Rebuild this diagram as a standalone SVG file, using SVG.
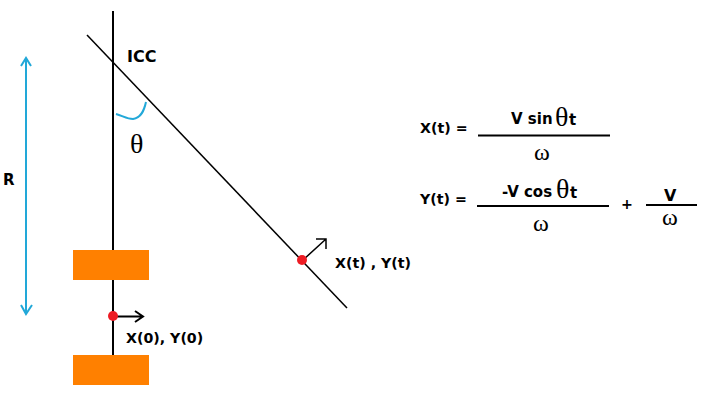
<svg xmlns="http://www.w3.org/2000/svg" width="725" height="417" viewBox="0 0 725 417">
<style>
.b{font-family:"DejaVu Sans",Verdana,sans-serif;font-weight:bold;font-size:14.2px;fill:#000}
.g{font-family:"Liberation Serif","DejaVu Serif",serif;fill:#000}
.w{font-size:24px}
.h{font-size:28px}
.l{fill:none;stroke:#000;stroke-width:2}
.t{fill:none;stroke:#000;stroke-width:1.5}
.c{fill:none;stroke:#22a8d8;stroke-width:2}
.o{fill:#ff8000}
.r{fill:#ed1c24}
</style>
<rect width="725" height="417" fill="#fff"/>
<g id="connectors">
<path class="l" d="M113 11V355"/>
<path class="t" d="M87 35L347 308"/>
<path class="c" d="M26 58V314M21 66L26 58L31 66M21 305L26 314L32 305"/>
<path class="c" d="M116 114C123 116 127 119 133 119C141 118 144 111 146 102"/>
<path class="l" d="M113 316.500H143M135 311L143 316.500L135 322"/>
<path class="t" d="M303 260L326 239M316 239H326V249"/>
<path class="l" d="M478 135.500H610M477 206H609M646 205H697"/>
</g>
<g id="wheel-top"><rect class="o" x="73" y="250" width="76" height="30"/></g>
<g id="wheel-bottom"><rect class="o" x="73" y="355" width="76" height="30"/></g>
<g id="point-start"><circle class="r" cx="113" cy="316" r="5"/><text class="b" x="126" y="343">X(0), Y(0)</text></g>
<g id="point-t"><circle class="r" cx="302" cy="260" r="5"/><text class="b" x="335" y="268">X(t) , Y(t)</text></g>
<g id="labels">
<text class="b" x="127" y="62" style="font-size:16px">ICC</text>
<text class="b" x="3" y="185" style="font-size:15px">R</text>
<text class="g h" x="130" y="153">θ</text>
</g>
<g id="formula-x">
<text class="b" x="420" y="133">X(t) =</text>
<text class="b" x="511" y="124" style="font-size:15px">V sin</text>
<text class="g h" x="555" y="126">θ</text>
<text class="b" x="569" y="125" style="font-size:15px">t</text>
<text class="g w" x="534" y="160">ω</text>
</g>
<g id="formula-y">
<text class="b" x="420" y="204">Y(t) =</text>
<text class="b" x="502" y="197" style="font-size:15px">-V cos</text>
<text class="g h" x="556" y="198">θ</text>
<text class="b" x="570" y="198" style="font-size:15px">t</text>
<text class="g w" x="533" y="231">ω</text>
<text class="b" x="621" y="209">+</text>
<text class="b" x="664" y="201" style="font-size:16px">V</text>
<text class="g w" x="662" y="225">ω</text>
</g>
</svg>
